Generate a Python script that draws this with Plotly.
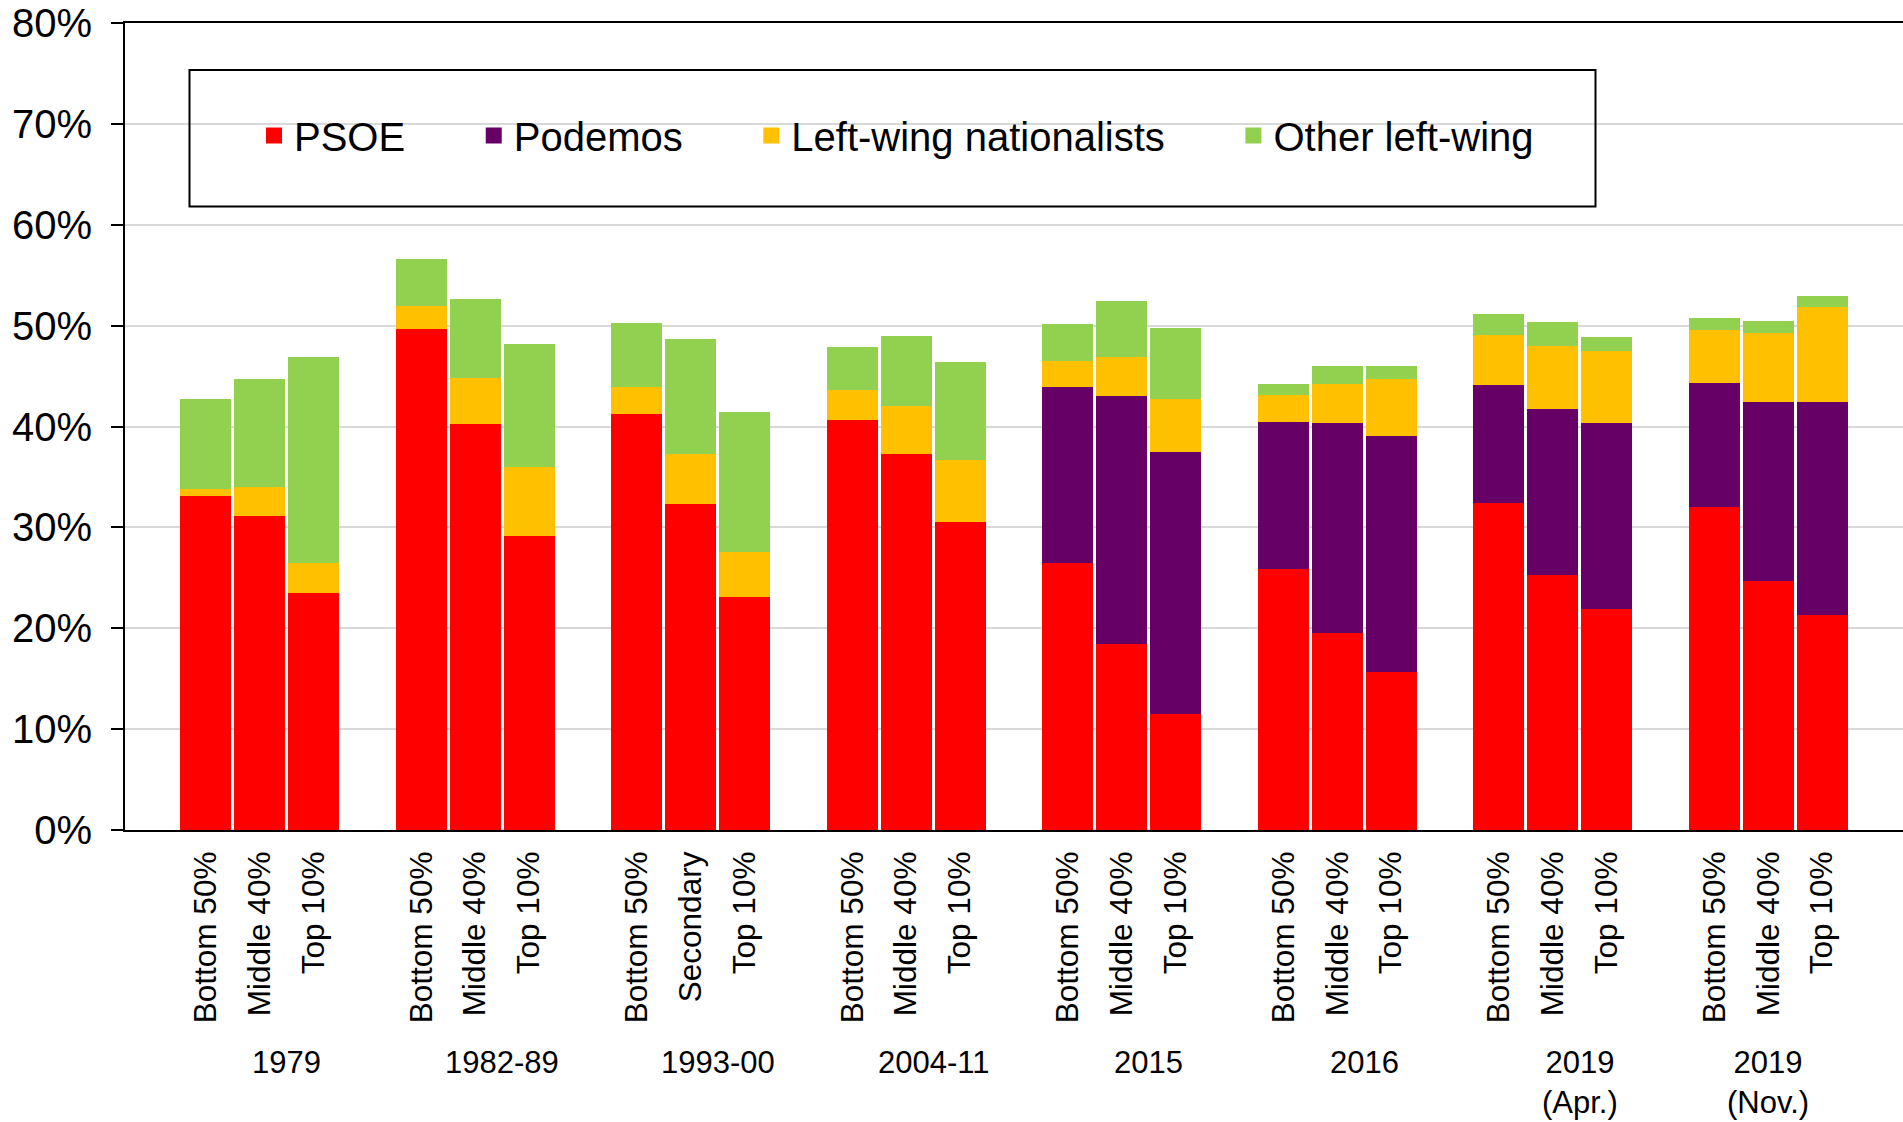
import plotly.graph_objects as go

# ---------------- data ----------------
groups = ["1979", "1982-89", "1993-00", "2004-11", "2015", "2016", "2019<br>(Apr.)", "2019<br>(Nov.)"]
sub_labels = [
    ["Bottom 50%", "Middle 40%", "Top 10%"],
    ["Bottom 50%", "Middle 40%", "Top 10%"],
    ["Bottom 50%", "Secondary", "Top 10%"],
    ["Bottom 50%", "Middle 40%", "Top 10%"],
    ["Bottom 50%", "Middle 40%", "Top 10%"],
    ["Bottom 50%", "Middle 40%", "Top 10%"],
    ["Bottom 50%", "Middle 40%", "Top 10%"],
    ["Bottom 50%", "Middle 40%", "Top 10%"],
]
series_names = ["PSOE", "Podemos", "Left-wing nationalists", "Other left-wing"]
psoe = [33.1, 31.1, 23.5, 49.7, 40.2, 29.1, 41.2, 32.3, 23.1, 40.6, 37.3, 30.5,
        26.5, 18.4, 11.5, 25.9, 19.5, 15.7, 32.4, 25.3, 21.9, 32.0, 24.7, 21.3]
podemos = [0, 0, 0, 0, 0, 0, 0, 0, 0, 0, 0, 0,
           17.4, 24.6, 26.0, 14.5, 20.8, 23.4, 11.7, 16.4, 18.4, 12.3, 17.7, 21.1]
left_nat = [0.7, 2.9, 3.0, 2.2, 4.6, 6.9, 2.7, 5.0, 4.5, 3.0, 4.7, 6.2,
            2.6, 3.9, 5.2, 2.7, 3.9, 5.6, 5.0, 6.3, 7.2, 5.3, 6.9, 9.4]
other_left = [8.9, 10.7, 20.4, 4.7, 7.8, 12.2, 6.4, 11.4, 13.8, 4.3, 7.0, 9.7,
              3.7, 5.5, 7.1, 1.1, 1.8, 1.3, 2.1, 2.4, 1.4, 1.2, 1.2, 1.1]
colors = ["#FF0000", "#660066", "#FFC000", "#92D050"]
y_ticks = [0, 10, 20, 30, 40, 50, 60, 70, 80]

# ---------------- layout helpers ----------------
FONT = "Liberation Sans, Arial, sans-serif"
W, H = 1903, 1122
ML, MR, MT, MB = 125, 0, 23, 292
PW, PH = W - ML - MR, H - MT - MB

# category slots: one blank slot before each group of three bars
xpos = [4 * g + i + 1 for g in range(len(groups)) for i in range(3)]
ticktext = [s for g in sub_labels for s in g]
group_centers = []
for g in range(len(groups)):
    sl = xpos[3 * g:3 * g + 3]
    c = sum(sl) / 3.0
    if g < len(groups) - 1:
        c += 0.5  # span includes trailing blank slot
    group_centers.append(c)

def px_to_paper_x(px):
    return (px - ML) / PW

def px_to_paper_y(py):
    return (H - MB - py) / PH

fig = go.Figure()
values = [psoe, podemos, left_nat, other_left]
pad = "\u00a0" * 5 + "\u2009"
for k, (name, vals, col) in enumerate(zip(series_names, values, colors)):
    fig.add_trace(go.Bar(
        x=xpos, y=vals, name=name, marker=dict(color=col, line=dict(width=0)),
        width=0.946, showlegend=False, legendgroup=name,
        hovertemplate=name + ": %{y:.1f}%<extra></extra>",
    ))
for k, (name, col) in enumerate(zip(series_names, colors)):
    fig.add_trace(go.Scatter(
        x=[None], y=[None], mode="markers", legendgroup=name,
        name=name + (pad if k < len(series_names) - 1 else ""),
        marker=dict(symbol="square", size=16, color=col, line=dict(width=0)),
        showlegend=True,
    ))

annotations = []
for c, lab in zip(group_centers, groups):
    annotations.append(dict(
        x=c, xref="x", y=px_to_paper_y(1043), yref="paper",
        text=lab, showarrow=False, xanchor="center", yanchor="top",
        font=dict(family=FONT, size=31, color="black"),
    ))

fig.update_layout(
    width=W, height=H,
    margin=dict(l=ML, r=MR, t=MT, b=MB, pad=0),
    paper_bgcolor="white", plot_bgcolor="white",
    barmode="stack", bargap=0,
    font=dict(family=FONT, color="black"),
    xaxis=dict(
        range=[-0.5, 32.5], tickmode="array", tickvals=xpos, ticktext=ticktext,
        tickangle=-90, tickfont=dict(family=FONT, size=31.5, color="black"),
        ticks="", showgrid=False, zeroline=False,
        showline=True, linecolor="black", linewidth=2, mirror=True,
        ticklabelstandoff=7, fixedrange=True,
    ),
    yaxis=dict(
        range=[0, 80], tickmode="array", tickvals=y_ticks,
        ticktext=[f"{v}%" for v in y_ticks],
        tickfont=dict(family=FONT, size=40, color="black"),
        ticks="outside", ticklen=12, tickwidth=2, tickcolor="black",
        showgrid=True, gridcolor="#D9D9D9", gridwidth=2,
        zeroline=False, showline=True, linecolor="black", linewidth=2,
        ticklabelstandoff=11, fixedrange=True,
    ),
    legend=dict(
        orientation="h", x=px_to_paper_x(254), xanchor="left",
        y=px_to_paper_y(135.5), yanchor="middle",
        font=dict(family=FONT, size=40, color="black"),
        bgcolor="rgba(0,0,0,0)", borderwidth=0, traceorder="normal",
    ),
    shapes=[dict(
        type="rect", xref="paper", yref="paper",
        x0=px_to_paper_x(189.5), x1=px_to_paper_x(1595.5),
        y0=px_to_paper_y(206.5), y1=px_to_paper_y(70),
        line=dict(color="black", width=2), fillcolor="rgba(0,0,0,0)", layer="above",
    )],
    annotations=annotations,
)

fig.write_html("out.html", config={"displayModeBar": False},
               post_script="document.body.style.margin='0';")
